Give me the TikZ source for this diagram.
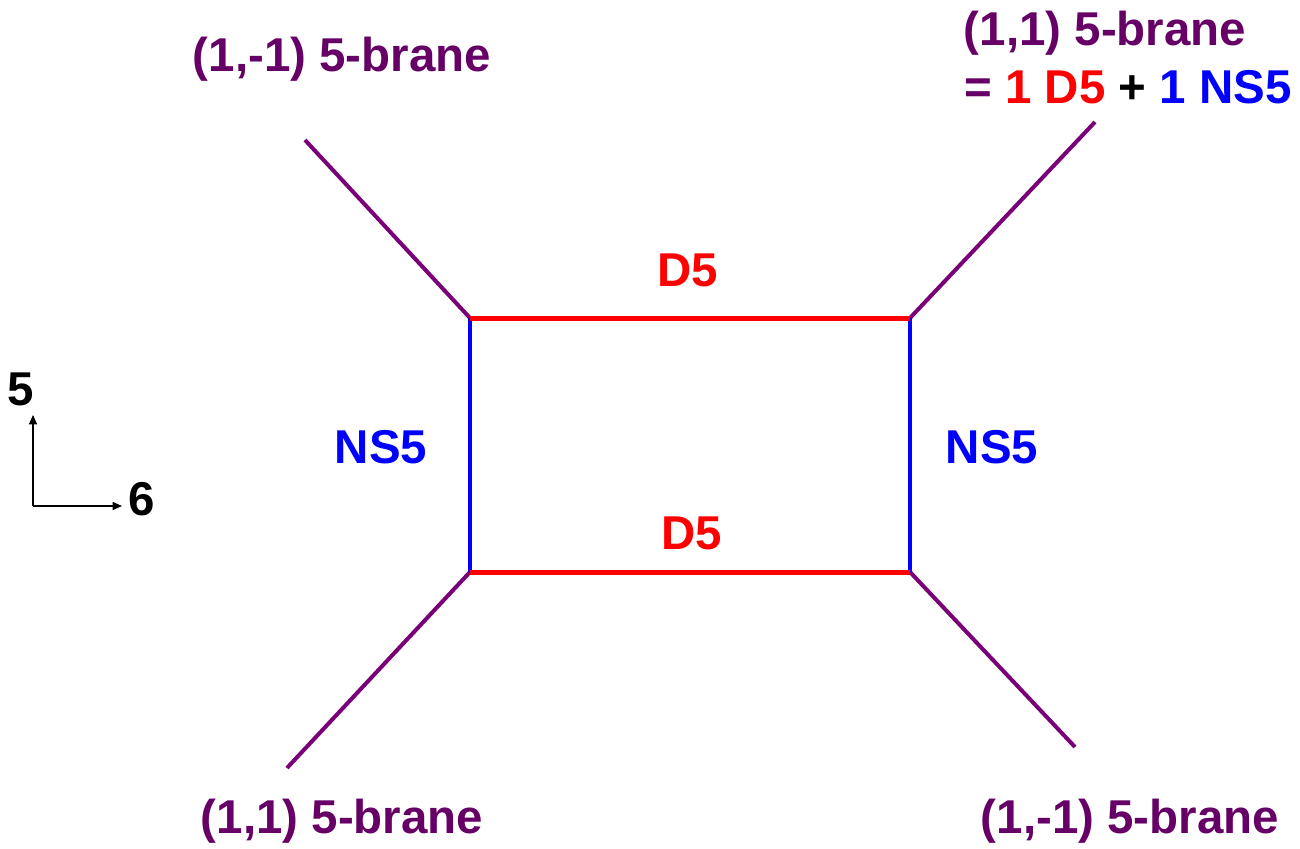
\documentclass[tikz,border=0pt]{standalone}
\usepackage{fontspec}
\setmainfont{Liberation Sans}
\usetikzlibrary{arrows.meta}
\definecolor{ptext}{HTML}{660066}
\definecolor{pline}{HTML}{7A0078}
\definecolor{dred}{HTML}{FF0000}
\definecolor{dblue}{HTML}{0000FF}
\begin{document}
\begin{tikzpicture}[x=0.75pt,y=-0.75pt,
  lbl/.style={font=\fontsize{35.6}{40}\selectfont\bfseries, inner sep=0pt},
  purp/.style={draw=pline, line width=3pt},
  dfive/.style={draw=dred, line width=3.75pt},
  nsfive/.style={draw=dblue, line width=2.3pt},
  axis/.style={draw=black, line width=1.1pt, -{Triangle[length=7pt,width=6pt]}}]
\useasboundingbox (0,0) rectangle (1300,849);
% corners
\coordinate (tl) at (470,318);
\coordinate (tr) at (910,318);
\coordinate (bl) at (470,572);
\coordinate (br) at (910,572);
\coordinate (etl) at (305,140);
\coordinate (etr) at (1095,122);
\coordinate (ebl) at (287,768);
\coordinate (ebr) at (1075,747);
% branes
\draw[purp] (tl) -- (etl);
\draw[purp] (tr) -- (etr);
\draw[purp] (bl) -- (ebl);
\draw[purp] (br) -- (ebr);
\draw[nsfive] (tl) -- (bl);
\draw[nsfive] (tr) -- (br);
\draw[dfive] (tl) -- (tr);
\draw[dfive] (bl) -- (br);
% labels
\node[lbl, text=ptext] (ltl) at (342,59) {(1,-1) 5-brane};
\node[lbl, text=ptext] (ltr) at (1105,33) {(1,1) 5-brane};
\node[lbl] (ltr2) at (1128,87) {\textcolor{ptext}{=} \textcolor{dred}{1 D5} + \textcolor{dblue}{1 NS5}};
\node[lbl, text=ptext] (lbl1) at (342,821) {(1,1) 5-brane};
\node[lbl, text=ptext] (lbr) at (1130,821) {(1,-1) 5-brane};
\node[lbl, text=dred] (d5t) at (688,270) {D5};
\node[lbl, text=dred] (d5b) at (692,533) {D5};
\node[lbl, text=dblue] (nsl) at (381,447) {NS5};
\node[lbl, text=dblue] (nsr) at (992,447) {NS5};
% axes
\coordinate (o) at (33,506);
\coordinate (ax5) at (33,415);
\coordinate (ax6) at (122,506);
\draw[axis] (o) -- (ax5);
\draw[axis] (o) -- (ax6);
\node[lbl] (n5) at (21,389) {5};
\node[lbl] (n6) at (142,499) {6};
\end{tikzpicture}
\end{document}
